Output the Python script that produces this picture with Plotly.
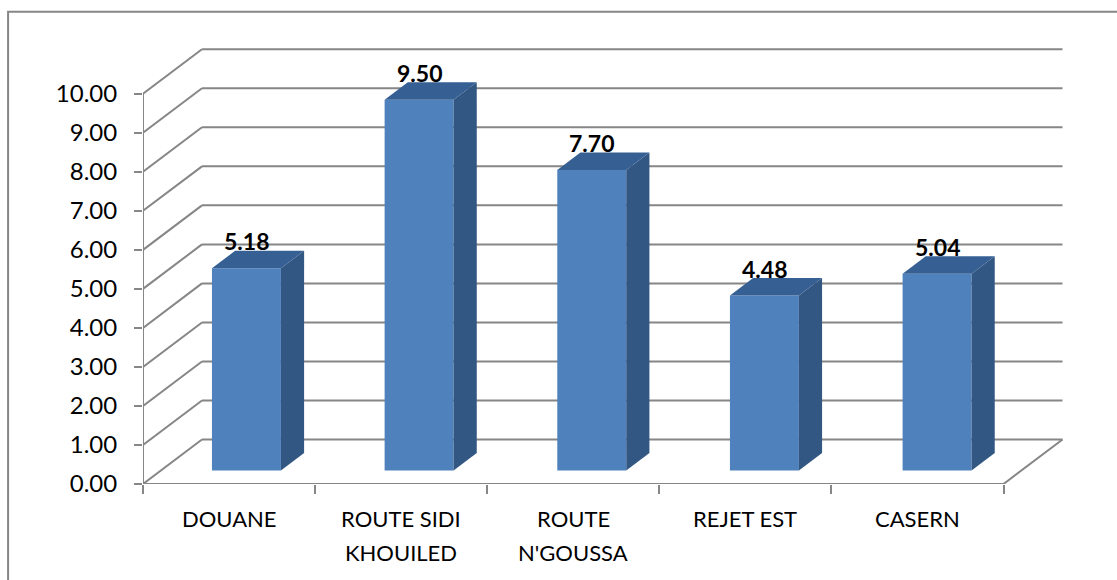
import plotly.graph_objects as go

# Data
categories = [["DOUANE"], ["ROUTE SIDI", "KHOUILED"], ["ROUTE", "N'GOUSSA"], ["REJET EST"], ["CASERN"]]
values = [5.18, 9.50, 7.70, 4.48, 5.04]
y_ticks = list(range(0, 11))
y_tick_labels = [f"{v:.2f}" for v in y_ticks]

# Geometry of the simulated 3D box, in axis units
PX_X, PX_Y = 172.2, 39.05
DEPTH_X, DEPTH_Y = 59 / PX_X, 44.5 / PX_Y
BAR_W = 69 / PX_X
BAR_START, BAR_STEP = 0.601, 1.0032
BAR_NEAR, BAR_FAR = 0.305, 0.698
N = len(categories)
XMAX, YMAX = N + 0.45, 11.3

FRONT, SIDE, TOP = "#4F81BD", "#335783", "#365F93"
GRID = "#868686"
FONT = "Lato"

W, H = PX_X * XMAX, PX_Y * YMAX
L, BOTTOM = 143, 484.5
fig = go.Figure()

# Back wall and side wall grid lines, below the bars
shapes = []
def seg(x0, y0, x1, y1):
    shapes.append(dict(type="line", xref="x", yref="y", x0=x0, y0=y0, x1=x1, y1=y1,
                       layer="below", line=dict(color=GRID, width=2)))
for v in y_ticks:
    seg(0, v, DEPTH_X, v + DEPTH_Y)
    seg(DEPTH_X, v + DEPTH_Y, N + DEPTH_X, v + DEPTH_Y)

# Chart frame (runs off the right and bottom of the page)
shapes.append(dict(type="rect", xref="paper", yref="paper",
                   x0=(8 - L) / W, x1=(1140 - L) / W,
                   y0=(BOTTOM - 600) / H, y1=(BOTTOM - 12) / H,
                   line=dict(color=GRID, width=2), fillcolor="rgba(0,0,0,0)", layer="below"))

# Front faces
base = BAR_NEAR * DEPTH_Y
cx = [BAR_START + i * BAR_STEP for i in range(N)]
fig.add_trace(go.Bar(x=cx, y=values, base=[base] * N, width=BAR_W,
                     marker=dict(color=FRONT, line=dict(width=0)), hoverinfo="skip"))

# Axis floor and wall lines
fig.add_trace(go.Scatter(x=[0, 0, N, N + DEPTH_X], y=[y_ticks[-1], 0, 0, DEPTH_Y], mode="lines",
                         line=dict(color=GRID, width=2), cliponaxis=False, hoverinfo="skip"))

# Side and top faces
dx = (BAR_FAR - BAR_NEAR) * DEPTH_X
dy = (BAR_FAR - BAR_NEAR) * DEPTH_Y
for c, v in zip(cx, values):
    x0, x1 = c - BAR_W / 2, c + BAR_W / 2
    y0, y1 = base, base + v
    fig.add_trace(go.Scatter(x=[x1, x1 + dx, x1 + dx, x1, x1], y=[y0, y0 + dy, y1 + dy, y1, y0],
                             mode="lines", fill="toself", fillcolor=SIDE, line=dict(width=0),
                             hoverinfo="skip"))
    fig.add_trace(go.Scatter(x=[x0, x1, x1 + dx, x0 + dx, x0], y=[y1, y1, y1 + dy, y1 + dy, y1],
                             mode="lines", fill="toself", fillcolor=TOP, line=dict(width=0),
                             hoverinfo="skip"))

annotations = []
# Data labels
for c, v in zip(cx, values):
    annotations.append(dict(x=c, y=base + v, xref="x", yref="y", text=f"{v:.2f}", showarrow=False,
                            yanchor="middle", yshift=27,
                            font=dict(family=FONT, size=23, color="black", weight="bold")))
# Category labels, with the source's wide line spacing
for i, lines in enumerate(categories):
    for j, line in enumerate(lines):
        annotations.append(dict(x=i + 0.5, y=0, xref="x", yref="y", text=line, showarrow=False,
                                yanchor="middle", yshift=-34 - 34 * j,
                                font=dict(family=FONT, size=22, color="black")))

fig.update_layout(
    width=1117, height=580, showlegend=False, barmode="overlay",
    paper_bgcolor="white", plot_bgcolor="white",
    margin=dict(l=L, r=1117 - L - W, t=BOTTOM - H, b=580 - BOTTOM, pad=0),
    shapes=shapes, annotations=annotations,
    font=dict(family=FONT, size=22, color="black"),
    xaxis=dict(range=[0, XMAX], showgrid=False, zeroline=False, showline=False,
               tickmode="array", tickvals=list(range(N + 1)), ticktext=[""] * (N + 1),
               ticks="outside", ticklen=9, tickwidth=2, tickcolor=GRID),
    yaxis=dict(range=[0, YMAX], showgrid=False, zeroline=False, showline=False,
               tickmode="array", tickvals=y_ticks, ticktext=y_tick_labels,
               ticks="outside", ticklen=8, tickwidth=2, tickcolor=GRID,
               ticklabelstandoff=12, tickfont=dict(family=FONT, size=24, color="black")),
)

fig.write_html("out.html", config=dict(displayModeBar=False),
               post_script="document.body.style.margin='0';")
